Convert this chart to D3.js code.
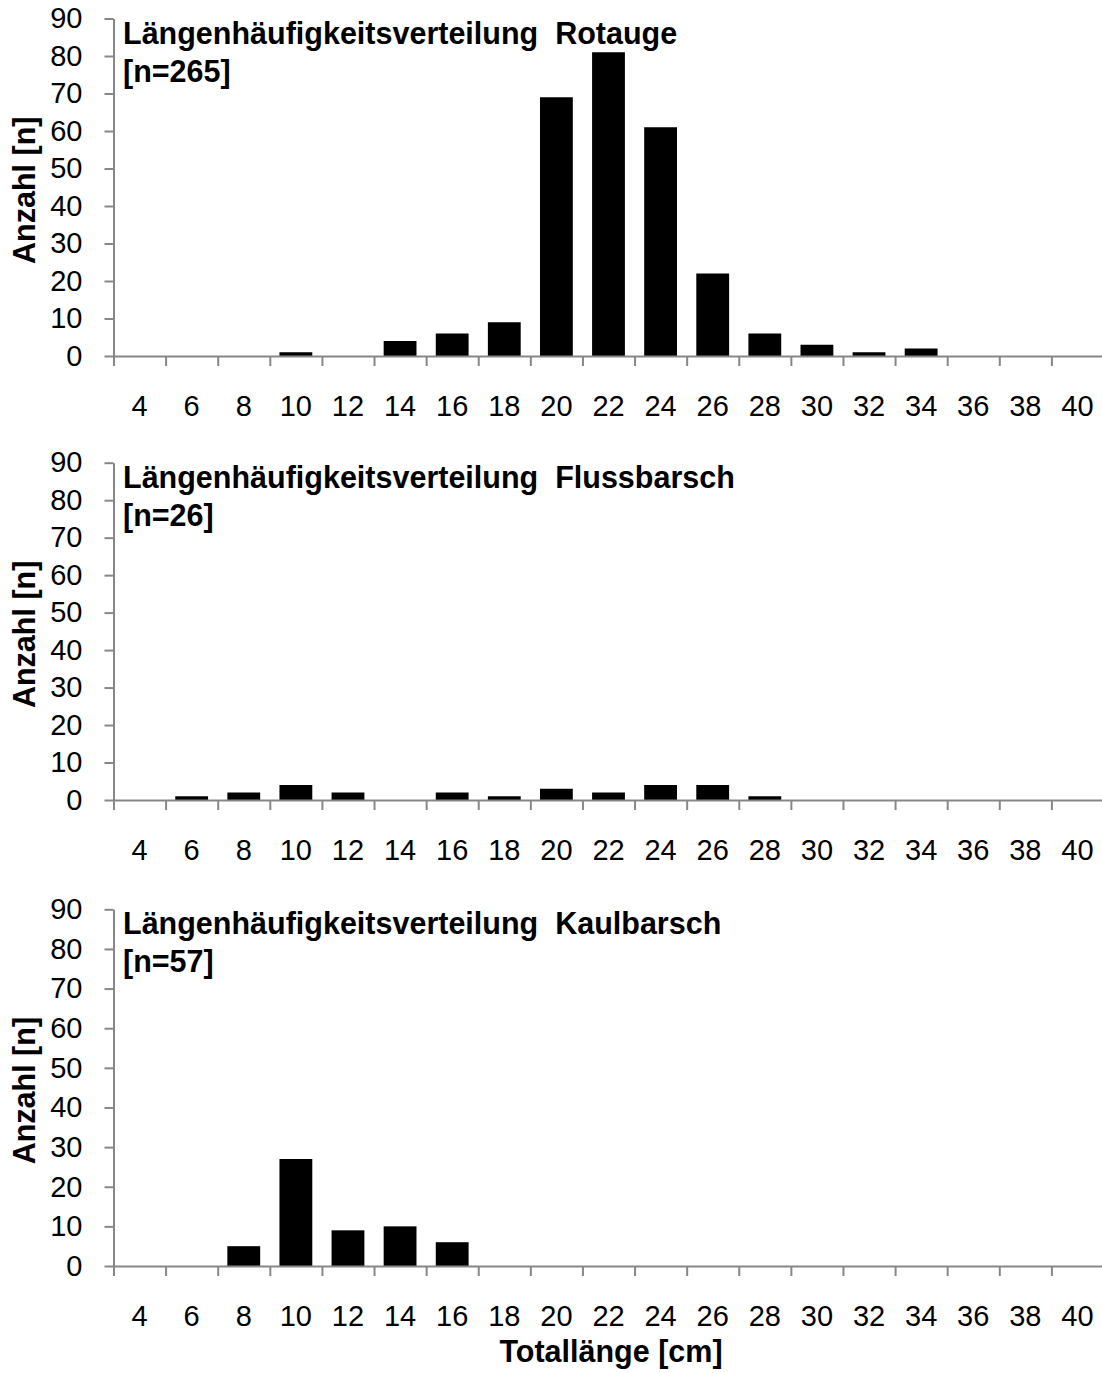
<!DOCTYPE html>
<html>
<head>
<meta charset="utf-8">
<script src="https://d3js.org/d3.v7.min.js"></script>
<style>
  body { margin: 0; background: #fff; }
  text { font-family: "Liberation Sans", Arial, sans-serif; }
</style>
</head>
<body>
<svg id="chart" width="1102" height="1373"></svg>
<script>
// length classes (cm)
const lengths = [4, 6, 8, 10, 12, 14, 16, 18, 20, 22, 24, 26, 28, 30, 32, 34, 36, 38, 40];
const yTicks = [0, 10, 20, 30, 40, 50, 60, 70, 80, 90];

// counts per length class
const rotauge     = [0, 0, 0, 1, 0, 4, 6, 9, 69, 81, 61, 22, 6, 3, 1, 2, 0, 0, 0];
const flussbarsch = [0, 1, 2, 4, 2, 0, 2, 1, 3, 2, 4, 4, 1, 0, 0, 0, 0, 0, 0];
const kaulbarsch  = [0, 0, 5, 27, 9, 10, 6, 0, 0, 0, 0, 0, 0, 0, 0, 0, 0, 0, 0];

const titles = [
  "Längenhäufigkeitsverteilung  Rotauge",
  "Längenhäufigkeitsverteilung  Flussbarsch",
  "Längenhäufigkeitsverteilung  Kaulbarsch"
];
const counts = ["[n=265]", "[n=26]", "[n=57]"];
const series = [rotauge, flussbarsch, kaulbarsch];

// vertical extent of each plot (top = 90, bottom = 0)
const panels = [
  {top: 18.5, bottom: 356},
  {top: 462.7, bottom: 800},
  {top: 909.3, bottom: 1266}
];

const svg = d3.select("#chart");
const left = 113.5, right = 1103.5;
const axisColor = "#878787";
const tickFont = 29;
const boldFont = 30.5;

let x = d3.scaleBand().domain(lengths).range([left, right]).paddingInner(0.37).paddingOuter(0.185);
let xEdge = d3.scaleLinear().domain([0, lengths.length]).range([left, right]);

panels.forEach(function(p, i) {
  let y = d3.scaleLinear().domain([0, 90]).range([p.bottom, p.top]);
  let g = svg.append("g");

  // bars
  g.selectAll("rect")
    .data(series[i].map((v, k) => ({len: lengths[k], v: v})).filter(d => d.v > 0))
    .join("rect")
    .attr("x", d => x(d.len))
    .attr("width", x.bandwidth())
    .attr("y", d => y(d.v))
    .attr("height", d => y(0) - y(d.v))
    .attr("fill", "#000");

  // y axis
  let yAxis = g.append("g")
    .attr("transform", `translate(${left},0)`)
    .call(d3.axisLeft(y).tickValues(yTicks).tickSize(9).tickPadding(22).tickSizeOuter(0));
  yAxis.selectAll("text").style("font-size", tickFont + "px").attr("fill", "#000");

  // x axis: tick marks at category boundaries
  let xAxis = g.append("g")
    .attr("transform", `translate(0,${p.bottom})`)
    .call(d3.axisBottom(xEdge).tickValues(d3.range(0, lengths.length + 1)).tickFormat("").tickSize(10).tickSizeOuter(0));

  // x labels
  let xLab = g.append("g")
    .attr("transform", `translate(0,${p.bottom})`)
    .call(d3.axisBottom(x).tickSize(0).tickPadding(39));
  xLab.select(".domain").remove();
  xLab.selectAll("text").style("font-size", tickFont + "px").attr("fill", "#000");

  [yAxis, xAxis].forEach(a => {
    a.select(".domain").attr("stroke", axisColor).attr("stroke-width", 2);
    a.selectAll(".tick line").attr("stroke", axisColor).attr("stroke-width", 2);
  });

  // titles
  g.append("text")
    .attr("x", 123).attr("y", p.top + 25)
    .style("font-size", boldFont + "px").style("font-weight", "bold")
    .style("white-space", "pre")
    .text(titles[i]);
  g.append("text")
    .attr("x", 123).attr("y", p.top + 63)
    .style("font-size", boldFont + "px").style("font-weight", "bold")
    .text(counts[i]);

  // y axis title
  g.append("text")
    .attr("transform", `translate(35,${(p.top + p.bottom) / 2 + 3}) rotate(-90)`)
    .attr("text-anchor", "middle")
    .style("font-size", boldFont + "px").style("font-weight", "bold")
    .text("Anzahl [n]");
});

svg.append("text")
  .attr("x", 611).attr("y", 1362)
  .attr("text-anchor", "middle")
  .style("font-size", boldFont + "px").style("font-weight", "bold")
  .text("Totallänge [cm]");
</script>
</body>
</html>
